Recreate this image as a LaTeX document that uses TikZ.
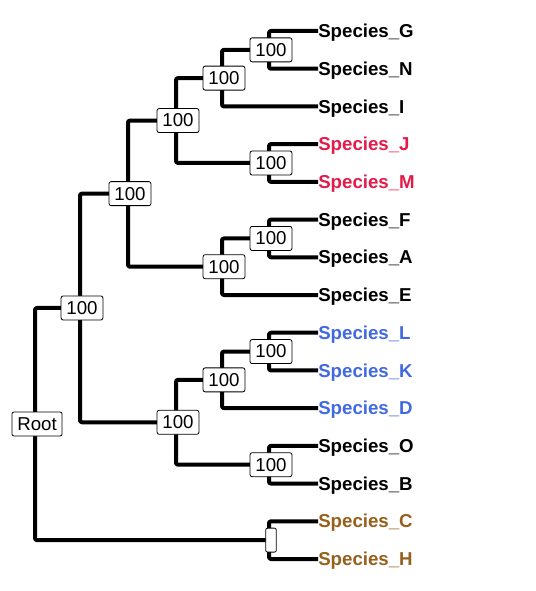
\documentclass[tikz,border=0pt]{standalone}
\usepackage{fontspec}
\setmainfont{Liberation Sans}
\definecolor{cred}{RGB}{228,26,72}
\definecolor{cblue}{RGB}{65,105,225}
\definecolor{cbrown}{RGB}{150,96,28}
\begin{document}
\begin{tikzpicture}[x=0.75pt,y=-0.75pt,
  branch/.style={line width=3pt,line join=round,rounded corners=1.5pt},
  leaf/.style={anchor=base west,inner sep=0pt,yshift=-5pt,font=\fontsize{14pt}{16pt}\selectfont\bfseries},
  support/.style={draw=black,line width=0.6pt,fill=white,rounded corners=1.5pt,inner xsep=4pt,inner ysep=0pt,minimum height=18pt,font=\fontsize{14pt}{16pt}\selectfont,xshift=1.5pt}]
\useasboundingbox (0,0) rectangle (535,591);
% leaves
\node[leaf] (G) at (318,31) {Species\_G};
\node[leaf] (N) at (318,68.71) {Species\_N};
\node[leaf] (I) at (318,106.43) {Species\_I};
\node[leaf,text=cred] (J) at (318,144.14) {Species\_J};
\node[leaf,text=cred] (M) at (318,181.86) {Species\_M};
\node[leaf] (F) at (318,219.57) {Species\_F};
\node[leaf] (A) at (318,257.29) {Species\_A};
\node[leaf] (E) at (318,295) {Species\_E};
\node[leaf,text=cblue] (L) at (318,332.71) {Species\_L};
\node[leaf,text=cblue] (K) at (318,370.43) {Species\_K};
\node[leaf,text=cblue] (D) at (318,408.14) {Species\_D};
\node[leaf] (O) at (318,445.86) {Species\_O};
\node[leaf] (B) at (318,483.57) {Species\_B};
\node[leaf,text=cbrown] (C) at (318,521.29) {Species\_C};
\node[leaf,text=cbrown] (H) at (318,559) {Species\_H};
% tip coordinates on the branch lines
\coordinate (tG) at (318,31);
\coordinate (tN) at (318,68.71);
\coordinate (tI) at (318,106.43);
\coordinate (tJ) at (318,144.14);
\coordinate (tM) at (318,181.86);
\coordinate (tF) at (318,219.57);
\coordinate (tA) at (318,257.29);
\coordinate (tE) at (318,295);
\coordinate (tL) at (318,332.71);
\coordinate (tK) at (318,370.43);
\coordinate (tD) at (318,408.14);
\coordinate (tO) at (318,445.86);
\coordinate (tB) at (318,483.57);
\coordinate (tC) at (318,521.29);
\coordinate (tH) at (318,559);
% branch points
\coordinate (b1) at (269,49.86);
\coordinate (b2) at (222,78.14);
\coordinate (b3) at (269,163);
\coordinate (b4) at (176,120.57);
\coordinate (b5) at (269,238.43);
\coordinate (b6) at (222,266.71);
\coordinate (b7) at (128,193.64);
\coordinate (b8) at (269,351.57);
\coordinate (b9) at (222,379.86);
\coordinate (b10) at (269,464.71);
\coordinate (b11) at (176,422.29);
\coordinate (b12) at (80,307.96);
\coordinate (b13) at (269,540.14);
\coordinate (r) at (35,424);
% connectors
\draw[branch] (tG) -| (b1) |- (tN);
\draw[branch] (b1) -| (b2) |- (tI);
\draw[branch] (tJ) -| (b3) |- (tM);
\draw[branch] (b2) -| (b4) |- (b3);
\draw[branch] (tF) -| (b5) |- (tA);
\draw[branch] (b5) -| (b6) |- (tE);
\draw[branch] (b4) -| (b7) |- (b6);
\draw[branch] (tL) -| (b8) |- (tK);
\draw[branch] (b8) -| (b9) |- (tD);
\draw[branch] (tO) -| (b10) |- (tB);
\draw[branch] (b9) -| (b11) |- (b10);
\draw[branch] (b7) -| (b12) |- (b11);
\draw[branch] (tC) -| (b13) |- (tH);
\draw[branch] (b12) -| (r) |- (b13);
% support labels
\node[support] (s1) at (b1) {100};
\node[support] (s2) at (b2) {100};
\node[support] (s3) at (b3) {100};
\node[support] (s4) at (b4) {100};
\node[support] (s5) at (b5) {100};
\node[support] (s6) at (b6) {100};
\node[support] (s7) at (b7) {100};
\node[support] (s8) at (b8) {100};
\node[support] (s9) at (b9) {100};
\node[support] (s10) at (b10) {100};
\node[support] (s11) at (b11) {100};
\node[support] (s12) at (b12) {100};
\node[support] (s13) at (b13) {};
\node[support] (sr) at (r) {Root};
\end{tikzpicture}
\end{document}
